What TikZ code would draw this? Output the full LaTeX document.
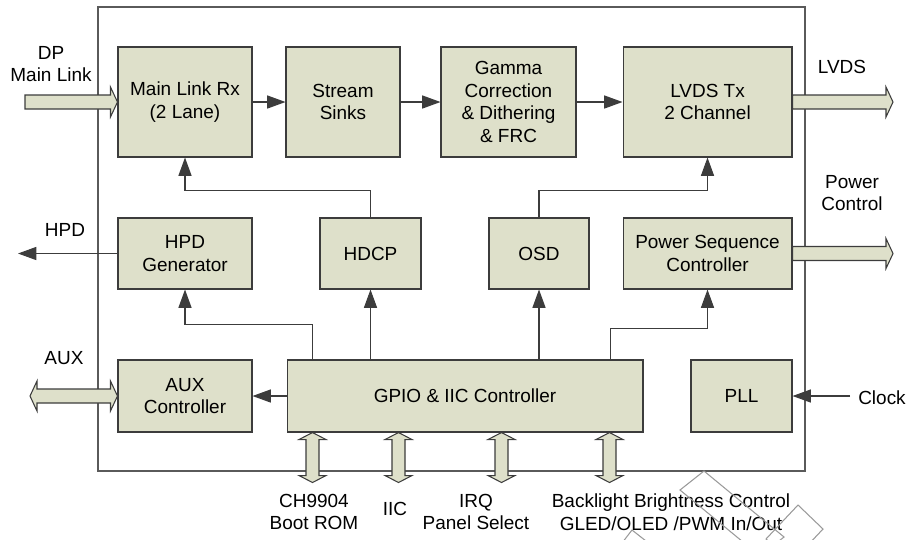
\documentclass[tikz,border=0pt]{standalone}
\usepackage{fontspec}
\setmainfont{Liberation Sans}
\usetikzlibrary{calc,arrows.meta}
\definecolor{blockfill}{HTML}{DEE0CA}
\definecolor{blockline}{HTML}{3C3C3C}
\definecolor{framegray}{HTML}{5A5A5A}
\definecolor{stampgray}{HTML}{9A9A9A}
\tikzset{
	block/.style={draw=blockline, fill=blockfill, line width=0.6pt, align=center, inner sep=0pt, font=\fontsize{10.8}{13}\selectfont},
	sig/.style={draw=blockline, line width=0.6pt, -{Triangle[length=10.5pt,width=7.5pt]}},
	fat/.style={draw=blockline, fill=blockfill, line width=0.6pt, line join=miter},
	lbl/.style={align=center, inner sep=0pt, font=\fontsize{10.8}{13}\selectfont},
	stamp/.style={draw=stampgray, line width=0.6pt},
}
\def\fatright(#1)(#2){\draw[fat] ($(#1)+(0,-7)$) -- ($(#2)+(-7,-7)$) -- ($(#2)+(-7,-15)$) -- (#2) -- ($(#2)+(-7,15)$) -- ($(#2)+(-7,7)$) -- ($(#1)+(0,7)$) -- cycle;}
\def\fatboth(#1)(#2){\draw[fat] (#1) -- ($(#1)+(7,-15)$) -- ($(#1)+(7,-7)$) -- ($(#2)+(-7,-7)$) -- ($(#2)+(-7,-15)$) -- (#2) -- ($(#2)+(-7,15)$) -- ($(#2)+(-7,7)$) -- ($(#1)+(7,7)$) -- ($(#1)+(7,15)$) -- cycle;}
\def\fatupdown(#1)(#2){\draw[fat] (#1) -- ($(#1)+(13.5,7)$) -- ($(#1)+(6.5,7)$) -- ($(#2)+(6.5,-7)$) -- ($(#2)+(13.5,-7)$) -- (#2) -- ($(#2)+(-13.5,-7)$) -- ($(#2)+(-6.5,-7)$) -- ($(#1)+(-6.5,7)$) -- ($(#1)+(-13.5,7)$) -- cycle;}

\begin{document}
\begin{tikzpicture}[x=0.02cm, y=-0.02cm]
		%%%%% START %%%%%
		\useasboundingbox (0, 0) rectangle (912, 539);
		
		\draw[framegray, line width=0.6pt] (98, 7) rectangle (805, 471);
		
		% top row
		\node[block, minimum width=2.68cm, minimum height=2.2cm] (rx) at (185, 102) {Main Link Rx\\(2 Lane)};
		\node[block, minimum width=2.28cm, minimum height=2.2cm] (sink) at (343, 102) {Stream\\Sinks};
		\node[block, minimum width=2.7cm, minimum height=2.2cm] (gamma) at (508.5, 102) {Gamma\\Correction\\\& Dithering\\\& FRC};
		\node[block, minimum width=3.38cm, minimum height=2.2cm] (lvds) at (707.5, 102) {LVDS Tx\\2 Channel};
		
		% middle row
		\node[block, minimum width=2.68cm, minimum height=1.42cm] (hpd) at (185, 253.5) {HPD\\Generator};
		\node[block, minimum width=2.02cm, minimum height=1.42cm] (hdcp) at (370.5, 253.5) {HDCP};
		\node[block, minimum width=2.0cm, minimum height=1.42cm] (osd) at (539, 253.5) {OSD};
		\node[block, minimum width=3.38cm, minimum height=1.42cm] (pwr) at (707.5, 253.5) {Power Sequence\\Controller};
		
		% bottom row
		\node[block, minimum width=2.68cm, minimum height=1.44cm] (aux) at (185, 396) {AUX\\Controller};
		\node[block, minimum width=7.12cm, minimum height=1.44cm] (gpio) at (465, 396) {GPIO \& IIC Controller};
		\node[block, minimum width=2.02cm, minimum height=1.44cm] (pll) at (741.5, 396) {PLL};
		
		\draw[sig] (rx.east) -- (sink.west);
		\draw[sig] (sink.east) -- (gamma.west);
		\draw[sig] (gamma.east) -- (lvds.west);
		\draw[sig] (hdcp.north) -- ++(0, -27) -| (rx.south);
		\draw[sig] (osd.north) -- ++(0, -27) -| (lvds.south);
		\draw[sig] ($(gpio.north west)+(26, 0)$) -- ++(0, -35) -| (hpd.south);
		\draw[sig] (gpio.north -| hdcp.south) -- (hdcp.south);
		\draw[sig] (gpio.north -| osd.south) -- (osd.south);
		\draw[sig] ($(gpio.north east)+(-33, 0)$) -- ++(0, -31) -| (pwr.south);
		\draw[sig] (gpio.west) -- (aux.east);
		
		\coordinate (clk) at (850, 396);
		\draw[sig] (clk) -- (pll.east);
		\coordinate (hpdout) at (18, 253.5);
		\draw[sig] (hpd.west) -- (hpdout);
		
		% wide buses
		\coordinate (dpin) at (25, 102);
		\fatright(dpin)(rx.west)
		\coordinate (lvdsout) at (893, 102);
		\fatright(lvds.east)(lvdsout)
		\coordinate (pwrout) at (893, 253.5);
		\fatright(pwr.east)(pwrout)
		\coordinate (auxout) at (30, 396);
		\fatboth(auxout)(aux.west)
		
		\coordinate (bootT) at ($(gpio.south west)+(26, 0)$);
		\coordinate (bootB) at ($(bootT)+(0, 50)$);
		\coordinate (iicT) at ($(gpio.south west)+(112, 0)$);
		\coordinate (iicB) at ($(iicT)+(0, 50)$);
		\coordinate (irqT) at ($(gpio.south west)+(215, 0)$);
		\coordinate (irqB) at ($(irqT)+(0, 50)$);
		\coordinate (blT) at ($(gpio.south west)+(323, 0)$);
		\coordinate (blB) at ($(blT)+(0, 50)$);
		\fatupdown(bootT)(bootB)
		\fatupdown(iicT)(iicB)
		\fatupdown(irqT)(irqB)
		\fatupdown(blT)(blB)
		
		\node[lbl] (dplbl) at (51, 64) {DP\\Main Link};
		\node[lbl] (hpdlbl) at (65, 230) {HPD};
		\node[lbl] (auxlbl) at (64, 358) {AUX};
		\node[lbl] (lvdslbl) at (842, 67) {LVDS};
		\node[lbl] (pwrlbl) at (852, 193) {Power\\Control};
		\node[lbl] (clklbl) at (882, 398) {Clock};
		\node[lbl] (bootlbl) at (314, 512) {CH9904\\Boot ROM};
		\node[lbl] (iiclbl) at (395, 509) {IIC};
		\node[lbl] (irqlbl) at (476, 512) {IRQ\\Panel Select};
		\node[lbl] (bllbl) at (671, 512) {Backlight Brightness Control\\GLED/OLED /PWM In/Out};
		
		% stamp outlines
		\begin{scope}
			\clip (0, 0) rectangle (912, 539);
			\draw[stamp] (680, 490) -- (704, 471) -- (784, 537) -- (760, 556) -- cycle;
			\draw[stamp] (798, 505) -- (823, 529) -- (791, 563) -- (766, 539) -- cycle;
			\draw[stamp] (622, 543) -- (632, 530) -- (646, 541);
		\end{scope}
		
		%%%%% END %%%%%
	\end{tikzpicture}
\end{document}
